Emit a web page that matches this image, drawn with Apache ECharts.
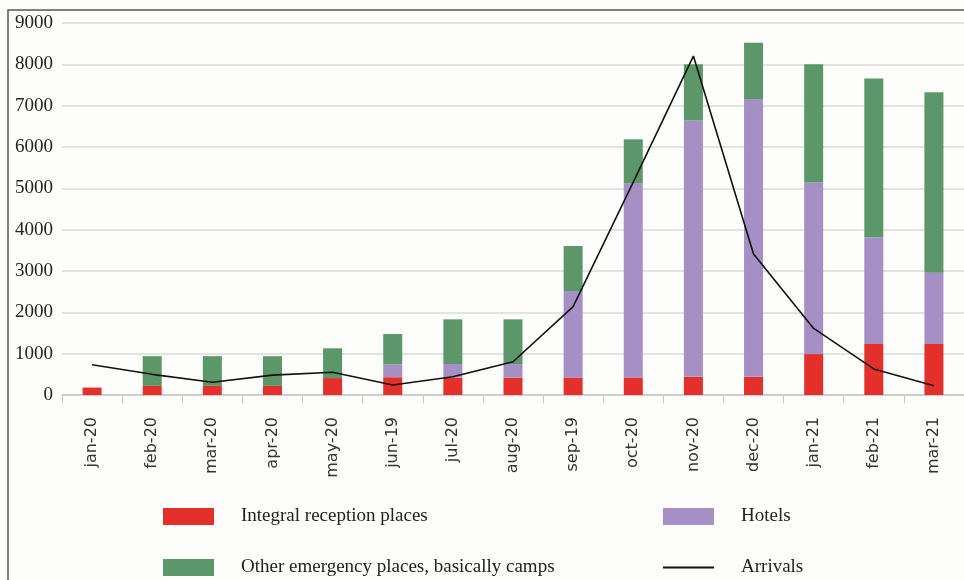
<!DOCTYPE html>
<html><head><meta charset="utf-8">
<script src="https://cdn.jsdelivr.net/npm/echarts@6/dist/echarts.min.js"></script>
<style>html,body{margin:0;padding:0;background:#fdfdfb;}#c{width:964px;height:580px;}</style>
</head><body><div id="c"></div>
<script>
const categories = ['jan-20','feb-20','mar-20','apr-20','may-20','jun-19','jul-20','aug-20','sep-19','oct-20','nov-20','dec-20','jan-21','feb-21','mar-21'];
const integral = [180,220,220,220,410,430,420,420,420,420,440,440,990,1235,1235];
const hotels = [0,0,0,0,0,310,330,330,2095,4700,6200,6720,4150,2580,1725];
const other = [0,720,720,720,720,735,1080,1080,1090,1065,1360,1365,2860,3840,4365];
const arrivals = [730,500,310,480,550,240,440,805,2140,5150,8200,3410,1610,630,225];
const yTicks = [0,1000,2000,3000,4000,5000,6000,7000,8000,9000];

const serif = '"Liberation Serif","DejaVu Serif",serif';
const chart = echarts.init(document.getElementById('c'));
const legendText = {fontFamily: serif, fontSize: 19, color: '#222', lineHeight: 17, padding: [0, 0, 0, 22]};
const legBase = {itemWidth: 51, itemHeight: 17, padding: 0, textStyle: legendText, icon: 'rect'};
chart.setOption({
  backgroundColor: '#fdfdfb',
  animation: false,
  grid: {left: 62, top: 23, width: 910, height: 372, containLabel: false},
  xAxis: {
    type: 'category', data: categories,
    axisLine: {lineStyle: {color: '#c8c8c8', width: 1.5}},
    axisTick: {show: true, length: 8, lineStyle: {color: '#c8c8c8'}},
    axisLabel: {rotate: 90, margin: 22, fontFamily: '"DejaVu Sans",sans-serif', fontSize: 16, color: '#333'}
  },
  yAxis: {
    type: 'value', min: yTicks[0], max: yTicks[yTicks.length-1], interval: 1000,
    axisLine: {show: false}, axisTick: {show: false},
    splitLine: {lineStyle: {color: '#dadada', width: 1.5}},
    axisLabel: {margin: 9, fontFamily: serif, fontSize: 19, color: '#222', formatter: v => String(v)}
  },
  legend: [
    Object.assign({data: ['Integral reception places'], left: 163, top: 507}, legBase),
    Object.assign({data: ['Hotels'], left: 663, top: 507}, legBase),
    Object.assign({data: ['Other emergency places, basically camps'], left: 163, top: 558}, legBase),
    Object.assign({}, legBase, {data: ['Arrivals'], left: 663, top: 558, icon: 'path://M0,7.5 L51,7.5 L51,9.5 L0,9.5 Z'})
  ],
  graphic: [{type: 'rect', shape: {x: 8, y: 10, width: 1000, height: 620}, style: {fill: 'none', stroke: '#555', lineWidth: 1.5}, silent: true, z: 100}],
  series: [
    {name: 'Integral reception places', type: 'bar', stack: 's', data: integral, barWidth: 19, itemStyle: {color: '#e3302a'}},
    {name: 'Hotels', type: 'bar', stack: 's', data: hotels, barWidth: 19, itemStyle: {color: '#a58fc4'}},
    {name: 'Other emergency places, basically camps', type: 'bar', stack: 's', data: other, barWidth: 19, itemStyle: {color: '#5b9769'}},
    {name: 'Arrivals', type: 'line', data: arrivals, symbol: 'none', lineStyle: {color: '#111', width: 1.6}, itemStyle: {color: '#111'}, z: 5}
  ]
});
</script></body></html>
